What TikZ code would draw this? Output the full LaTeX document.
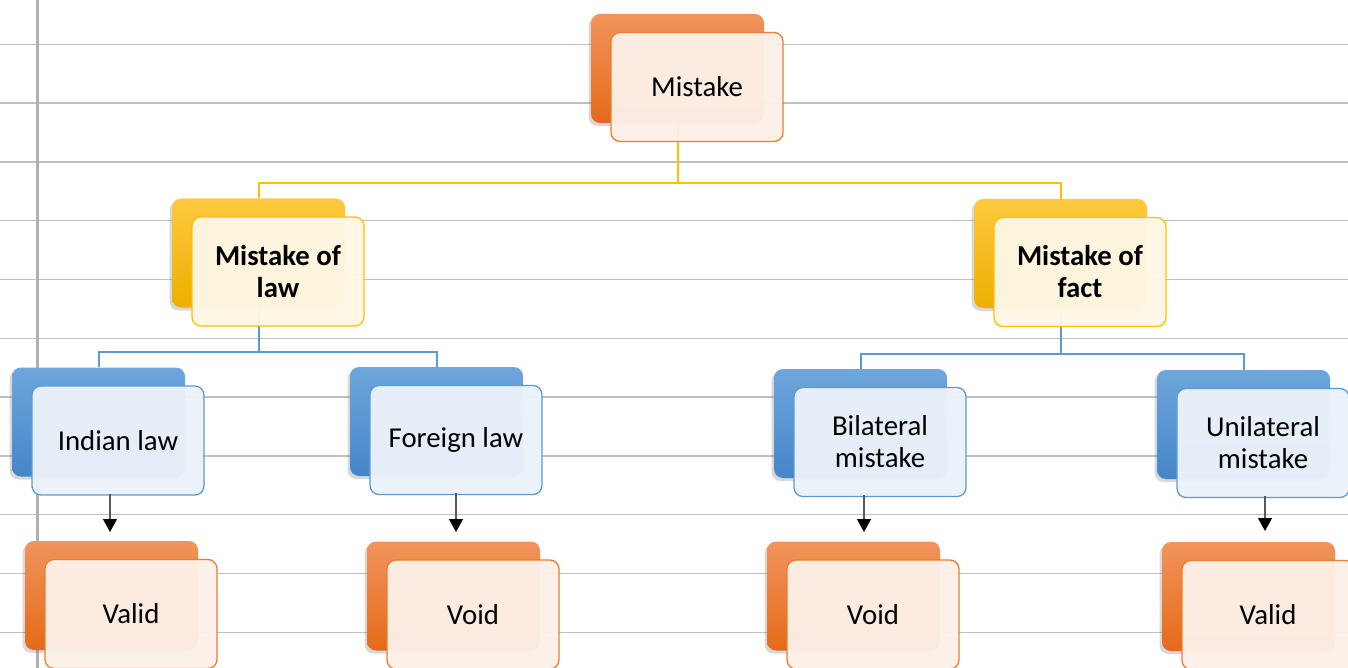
\documentclass[tikz,border=0pt]{standalone}
\usepackage{fontspec}
\setmainfont{Carlito}
\usetikzlibrary{shadows,arrows.meta}
\definecolor{gridc}{HTML}{BFBFBF}
\definecolor{vgridc}{HTML}{B0B0B0}
\definecolor{orT}{HTML}{F1945C}
\definecolor{orB}{HTML}{E46A18}
\definecolor{orF}{HTML}{FCF0E8}
\definecolor{orL}{HTML}{ED7D31}
\definecolor{yeT}{HTML}{FFC940}
\definecolor{yeB}{HTML}{EBB000}
\definecolor{yeF}{HTML}{FEF7E6}
\definecolor{yeL}{HTML}{FFC000}
\definecolor{blT}{HTML}{6FA6DC}
\definecolor{blB}{HTML}{4486C9}
\definecolor{blF}{HTML}{ECF2FA}
\definecolor{blL}{HTML}{5B9BD5}
\definecolor{arrc}{HTML}{595959}
\pgfdeclarelayer{bg}
\pgfdeclarelayer{conn}
\pgfsetlayers{bg,conn,main}
\tikzset{
  backbox/.style={rectangle, rounded corners=9pt, minimum width=173pt, minimum height=109pt,
    inner sep=0pt, draw=none,
    drop shadow={shadow xshift=-2.5pt, shadow yshift=-3pt, opacity=0.3}},
  frontbox/.style={rectangle, rounded corners=9pt, minimum width=172pt, minimum height=109pt,
    inner sep=0pt, line width=1.3pt, fill opacity=0.96, text opacity=1, align=center,
    font=\fontsize{28.8}{32}\selectfont},
  orangeB/.style={backbox, top color=orT, bottom color=orB},
  orangeF/.style={frontbox, fill=orF, draw=orL},
  yellowB/.style={backbox, top color=yeT, bottom color=yeB},
  yellowF/.style={frontbox, fill=yeF, draw=yeL},
  blueB/.style={backbox, top color=blT, bottom color=blB},
  blueF/.style={frontbox, fill=blF, draw=blL},
  gridline/.style={draw=gridc, line width=1.5pt},
  vgridline/.style={draw=vgridc, line width=3.5pt},
  yline/.style={draw=yeL, line width=2pt},
  bline/.style={draw=blL, line width=2pt},
  arr/.style={draw=arrc, line width=1.2pt, -{Triangle[width=14pt,length=13pt,fill=black,color=black]}}
}
\newcommand\twobox[5]{%
  \node[#2B] (#1B) at (#3,#4) {};
  \node[#2F, xshift=19.5pt, yshift=-18.5pt] (#1F) at (#3,#4) {#5};}
\begin{document}
\begin{tikzpicture}[x=1pt, y=-1pt]
\useasboundingbox (0,0) rectangle (1348,668);
\begin{pgfonlayer}{bg}
  \fill[white] (0,0) rectangle (1348,668);
  \foreach \k in {0,...,10} {
    \draw[gridline] (0,{44.3+58.8*\k}) -- (1348,{44.3+58.8*\k});
  }
  \draw[vgridline] (37.5,0) -- (37.5,668);
\end{pgfonlayer}

\twobox{mist}{orange}{677.5}{68.5}{Mistake}
\twobox{law}{yellow}{258.5}{253}{\textbf{Mistake of}\\\textbf{law}}
\twobox{fact}{yellow}{1060.5}{253.5}{\textbf{Mistake of}\\\textbf{fact}}
\twobox{ind}{blue}{98.5}{422}{Indian law}
\twobox{for}{blue}{436.5}{421.5}{Foreign law}
\twobox{bil}{blue}{860.5}{423.5}{Bilateral\\mistake}
\twobox{uni}{blue}{1243.5}{424.5}{Unilateral\\mistake}
\twobox{valA}{orange}{111.5}{595.5}{Valid}
\twobox{voidA}{orange}{453.5}{596}{Void}
\twobox{voidB}{orange}{853.5}{596}{Void}
\twobox{valB}{orange}{1248.5}{596.5}{Valid}

\begin{pgfonlayer}{conn}
  \coordinate (ybus) at (0,183);
  \coordinate (bbusL) at (0,351.5);
  \coordinate (bbusR) at (0,353.5);
  \draw[yline] (mistB.center) -- (mistB.center |- ybus) -| (lawB.north);
  \draw[yline] (mistB.center |- ybus) -| (factB.north);
  \draw[bline] (lawB.center) -- (lawB.center |- bbusL) -| (indB.north);
  \draw[bline] (lawB.center |- bbusL) -| (forB.north);
  \draw[bline] (factB.center) -- (factB.center |- bbusR) -| (bilB.north);
  \draw[bline] (factB.center |- bbusR) -| (uniB.north);
\end{pgfonlayer}

\coordinate (t1) at (110,532);
\coordinate (t2) at (456,532);
\coordinate (t3) at (864,532);
\coordinate (t4) at (1265,531);
\draw[arr] ([yshift=2pt]indF.south -| t1) -- (t1);
\draw[arr] ([yshift=2pt]forF.south -| t2) -- (t2);
\draw[arr] ([yshift=2pt]bilF.south -| t3) -- (t3);
\draw[arr] ([yshift=2pt]uniF.south -| t4) -- (t4);
\end{tikzpicture}
\end{document}
